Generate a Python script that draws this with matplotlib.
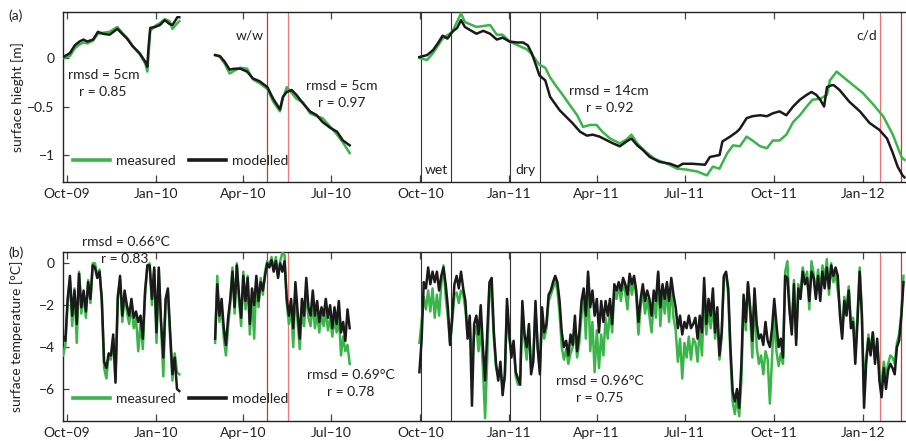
import numpy as np
import matplotlib
matplotlib.use("Agg")
import matplotlib.pyplot as plt
import matplotlib.dates as mdates
from matplotlib.lines import Line2D

plt.rcParams['font.family'] = ['Lato', 'DejaVu Sans']
plt.rcParams['axes.unicode_minus'] = True

BASE = np.datetime64('2009-10-01T00:00')

# ---------------- surface height (m); days since 1 Oct 2009 ----------------
h1_days = [-4, 3, 8, 13, 17, 21, 27, 32, 37, 44, 52, 57, 62, 68, 75, 81, 83, 84, 86, 91, 96, 101, 106, 109, 114, 116]
h1_mod = [0.01, 0.05, 0.13, 0.17, 0.19, 0.17, 0.19, 0.27, 0.25, 0.24, 0.30, 0.25, 0.20, 0.12, 0.05, -0.04, -0.09, 0.08,
          0.31, 0.32, 0.34, 0.39, 0.35, 0.34, 0.42, 0.42]
h1_meas = [0.00, 0.02, 0.10, 0.14, 0.16, 0.15, 0.18, 0.25, 0.26, 0.27, 0.32, 0.26, 0.21, 0.12, 0.04, -0.06, -0.14, 0.00,
           0.28, 0.33, 0.36, 0.40, 0.38, 0.30, 0.36, 0.38]

h2_days = [153, 158, 163, 168, 173, 179, 186, 192, 199, 207, 213, 220, 223, 227, 232, 237, 244, 251, 258, 264, 272, 279, 285, 292]
h2_mod = [0.03, 0.02, -0.04, -0.12, -0.11, -0.11, -0.14, -0.21, -0.24, -0.30, -0.42, -0.53, -0.40, -0.35, -0.33, -0.38,
          -0.47, -0.55, -0.59, -0.66, -0.72, -0.76, -0.85, -0.90]
h2_meas = [0.03, 0.01, -0.06, -0.16, -0.13, -0.10, -0.11, -0.22, -0.26, -0.32, -0.45, -0.55, -0.42, -0.30, -0.36, -0.42,
           -0.46, -0.57, -0.60, -0.62, -0.71, -0.79, -0.87, -0.98]

h3_mod_days = [364, 372, 378, 383, 388, 393, 398, 403, 407, 411, 416, 423, 430, 437, 444, 450, 457, 465, 471, 476,
               480, 485, 488, 494, 499, 504, 509, 516, 522, 530, 537, 543, 550, 558, 564, 571, 578, 583, 589, 595,
               602, 612, 623, 631, 636, 646, 659, 664, 674, 677, 685, 692, 695, 702, 708, 716, 723, 729, 736, 743,
               750, 757, 764, 769, 774, 778, 782, 785, 790, 792, 798, 808, 819, 829, 839, 847, 853, 858, 863, 865]
h3_mod = [0.01, 0.03, 0.08, 0.15, 0.23, 0.20, 0.27, 0.31, 0.39, 0.32, 0.29, 0.25, 0.28, 0.25, 0.19, 0.21, 0.17, 0.16, 0.16, 0.13,
          0.05, -0.09, -0.18, -0.23, -0.40, -0.47, -0.54, -0.61, -0.67, -0.76, -0.80, -0.79, -0.81, -0.85, -0.88, -0.91, -0.86, -0.83, -0.90, -0.95,
          -1.02, -1.07, -1.09, -1.12, -1.09, -1.09, -1.10, -1.02, -1.00, -0.86, -0.81, -0.76, -0.73, -0.62, -0.60, -0.59, -0.60, -0.57, -0.55, -0.59,
          -0.50, -0.43, -0.38, -0.35, -0.38, -0.43, -0.50, -0.30, -0.28, -0.28, -0.33, -0.45, -0.55, -0.67, -0.74, -0.83, -0.98, -1.12, -1.21, -1.23]
h3_meas_days = [364, 372, 378, 388, 398, 407, 411, 423, 437, 444, 450, 457, 468, 475, 480, 488, 494, 499, 506, 512,
                519, 527, 533, 540, 547, 553, 561, 571, 578, 583, 589, 597, 607, 620, 630, 640, 651, 661, 667, 674,
                682, 688, 695, 702, 708, 716, 723, 729, 736, 743, 750, 757, 764, 770, 778, 785, 788, 795, 801, 812,
                822, 832, 843, 853, 862, 865]
h3_meas = [0.00, -0.02, 0.05, 0.20, 0.27, 0.46, 0.37, 0.32, 0.34, 0.24, 0.24, 0.17, 0.12, 0.09, 0.04, -0.07, -0.10, -0.20, -0.30, -0.38,
           -0.48, -0.59, -0.71, -0.69, -0.69, -0.76, -0.83, -0.88, -0.84, -0.79, -0.88, -0.96, -1.04, -1.09, -1.14, -1.15, -1.17, -1.21, -1.12, -1.14,
           -0.98, -0.90, -0.91, -0.81, -0.85, -0.91, -0.93, -0.85, -0.85, -0.79, -0.66, -0.59, -0.50, -0.43, -0.42, -0.38, -0.23, -0.14, -0.19, -0.28,
           -0.36, -0.47, -0.60, -0.79, -1.02, -1.05]

# ---------------- surface temperature (degC); regularly sampled segments ----------------
t_seg_days = [(-4, 116), (153, 292), (364, 864)]
t1_mod = [-3.5, -3.7, -1.7, -0.6, -2.5, -1.3, -2.9, -0.5, -2.1, -1.3, -2.3, -0.9, -1.7, -0.1, -0.2, -0.7, -0.4, -1.7,
          -4.7, -5.0, -4.3, -4.4, -3.4, -5.7, -1.7, -0.6, -2.5, -1.3, -2.0, -2.5, -1.7, -2.6, -2.3, -2.8, -2.5, -3.6,
          -1.3, -0.1, -0.1, -1.7, -0.2, -3.3, -0.2, -2.8, -4.5, -1.7, -1.2, -3.3, -5.3, -4.5, -6.0, -6.1]
t1_meas = [-4.4, -3.9, -1.9, -0.8, -3.0, -1.2, -3.8, -0.4, -2.4, -1.5, -2.6, -0.8, -1.9, 0.0, 0.0, -0.6, -0.3, -1.9,
           -5.0, -5.5, -4.4, -4.6, -3.6, -5.5, -1.5, -0.8, -2.8, -1.5, -2.3, -2.9, -2.0, -3.1, -2.6, -4.2, -2.8, -4.1,
           -1.5, -0.1, 0.0, -2.0, -0.3, -3.8, -0.3, -3.0, -5.4, -1.9, -1.4, -3.6, -5.6, -4.3, -5.2, -5.3]
t2_mod = [-3.6, -1.0, -2.5, -1.7, -3.1, -3.9, -2.6, -1.7, -0.4, -2.1, -0.1, -1.5, -2.6, -0.6, -1.8, -0.7, -2.9, -1.2,
          -2.0, -0.6, -1.8, -0.9, -1.3, -0.6, 0.0, -0.2, 0.15, -0.4, 0.1, -0.7, 0.0, -0.4, 0.1, -1.7, -2.5, -1.7,
          -3.1, -0.9, -2.3, -3.6, -1.7, -2.5, -0.7, -2.1, -2.5, -1.3, -2.5, -1.8, -2.8, -2.1, -2.5, -1.7, -2.6, -2.0,
          -3.1, -2.1, -2.9, -1.8, -3.3, -2.8, -3.7, -2.2, -3.1]
t2_meas = [-3.8, -0.6, -2.8, -2.0, -3.6, -4.4, -3.0, -1.9, -0.2, -2.4, 0.0, -1.8, -3.0, -0.4, -2.2, -0.6, -3.4, -1.5,
           -3.6, -0.8, -2.1, -0.7, -1.5, -0.4, 0.1, -0.1, 0.3, -0.3, 0.3, -0.6, 0.1, 0.5, 0.4, -1.9, -2.9, -2.0,
           -4.0, -1.2, -2.8, -4.1, -2.2, -3.0, -1.2, -2.6, -3.0, -1.9, -3.1, -2.4, -3.3, -2.4, -3.0, -2.3, -3.2, -2.6,
           -3.5, -2.6, -3.3, -2.5, -4.4, -3.5, -4.2, -3.9, -4.8]
t3_mod = [-5.2, -3.7, -0.9, -1.2, -0.2, -1.0, -0.4, -0.9, -0.4, -1.3, -0.6, -0.2, -1.0, -2.1, -3.9, -2.5, -1.0, -0.6,
          -1.2, -0.4, -1.2, -1.8, -3.6, -2.5, -6.8, -2.9, -2.5, -3.4, -2.0, -4.0, -5.6, -3.3, -0.9, -0.7, -3.3, -4.8,
          -5.6, -4.7, -6.3, -5.3, -1.7, -3.3, -4.5, -3.7, -5.2, -5.5, -5.8, -1.8, -3.4, -4.0, -2.9, -5.3, -4.7, -1.8,
          -4.0, -5.3, -2.1, -3.3, -2.9, -1.5, -1.3, -0.9, -0.6, -0.9, -1.8, -3.3, -4.0, -3.7, -4.4, -3.4, -3.9, -2.5,
          -4.2,
          -3.3, -1.8, -1.2, -2.5, -0.4, -2.1, -1.3, -2.5, -1.7, -3.3, -1.8, -2.8, -1.8, -2.5, -1.7, -2.9, -1.0, -1.3,
          -0.9, -1.3, -0.7, -1.0, -1.5, -0.5, -1.0, -0.6, -1.3, -2.8, -1.7, -1.0, -1.8, -1.3, -1.7, -2.5, -1.3, -1.8,
          -0.4, -2.1, -1.0, -1.7, -0.9, -1.8, -0.7, -1.5, -2.1, -3.1, -2.5, -3.4, -2.8, -3.1, -2.5, -3.1, -2.9, -2.6,
          -3.6, -2.5, -3.3, -0.7, -2.9, -1.7, -2.5, -1.2, -3.3, -2.1, -4.4, -3.3, -0.6, -0.4, -1.2, -4.0, -6.1, -6.6,
          -6.0, -6.9, -4.8,
          -1.5, -2.8, -0.9, -2.1, -3.7, -1.2, -2.9, -3.6, -3.4, -3.9, -2.8, -3.7, -4.0, -3.1, -1.7, -2.9, -4.0, -3.6,
          -4.5, -0.6, -0.7, -2.3, -3.4, -1.0, -3.9, -1.2, -1.7, -0.4, -1.0, -0.7, -1.8, -0.4, -0.7, -1.7, -0.6, -1.8,
          -0.4, -1.2, -0.2, -1.2, -0.1, -0.6, -0.2, -0.6, -2.5, -3.6, -1.8, -2.5, -1.3, -3.1, -2.8, -4.8, -2.8, -0.4,
          -2.5, -6.9, -4.7, -3.6, -4.4, -3.3, -4.8, -3.6, -5.6, -6.4, -5.0, -6.0, -5.1, -4.8, -5.0, -5.3, -4.0, -3.7,
          -2.6, -0.9]
t3_meas = [-3.8, -2.8, -1.6, -2.2, -1.3, -2.3, -1.2, -2.6, -1.5, -2.5, -1.0, -0.1, -1.6, -2.6, -3.8, -2.8, -1.5, -1.4,
           -1.9, -1.3, -1.5, -2.2, -3.4, -2.8, -4.6, -3.4, -3.0, -4.2, -3.0, -5.0, -7.4, -4.5, -1.1, -1.5, -3.6, -5.0,
           -5.4, -5.1, -6.0, -5.5, -2.0, -3.6, -4.2, -3.9, -5.4, -5.8, -5.5, -2.3, -3.7, -4.6, -3.1, -5.0, -4.5, -2.2,
           -4.1, -5.1, -2.6, -3.6, -3.1, -1.8, -1.5, -1.2, -0.8, -1.3, -2.4, -4.0, -4.6, -4.1, -4.8, -4.3, -4.0, -3.2,
           -4.5,
           -3.8, -2.5, -1.4, -3.6, -0.6, -4.2, -2.8, -5.2, -3.2, -5.0, -3.4, -4.4, -2.6, -3.6, -2.2, -3.3, -1.3, -1.7,
           -1.0, -1.8, -0.9, -1.4, -2.2, -0.7, -1.5, -0.8, -1.6, -3.4, -2.1, -1.3, -2.4, -1.7, -2.5, -3.3, -1.8, -2.6,
           -0.5, -3.0, -1.4, -2.4, -1.2, -2.8, -1.0, -2.6, -3.2, -4.7, -3.6, -5.5, -3.8, -4.5, -3.5, -4.6, -3.6, -3.8,
           -4.7, -3.0, -4.4, -1.5, -3.4, -2.2, -3.1, -1.9, -3.6, -2.7, -4.6, -3.5, -0.7, -0.5, -1.5, -4.5, -6.6, -7.2,
           -6.4, -7.3, -5.6,
           -1.7, -3.2, -1.0, -2.4, -4.5, -1.6, -4.0, -4.8, -4.4, -5.3, -4.2, -4.6, -6.7, -4.5, -2.5, -4.2, -4.9, -4.3,
           -4.8, -0.4, 0.1, -2.0, -3.2, -0.8, -3.6, -1.0, -1.5, -0.2, -0.8, -0.4, -2.2, 0.1, -0.5, -1.5, -0.3, -1.4,
           -0.1, -0.8, 0.2, -1.5, 0.0, -0.9, -0.5, -1.3, -2.2, -3.4, -1.6, -2.2, -1.1, -2.8, -2.6, -4.3, -2.4, -0.2,
           -2.3, -6.2, -4.5, -3.4, -4.2, -3.3, -4.6, -3.8, -5.2, -5.8, -4.7, -5.4, -4.8, -4.4, -4.5, -4.8, -3.8, -3.4,
           -2.4, -0.6]

series_labels = ['measured', 'modelled']

# event markers (days since 1 Oct 2009)
red_days = [207, 228, 840, 861]
red_cols = ['#e4282e', '#ee7a7a', '#f07070', '#e4282e']
black_days = [366, 397, 458, 489]

GREEN = '#3bb54a'
BLACK = '#1a1a1a'
TXT = '#231f20'


def to_dates(days):
    d = np.asarray(days, dtype=float)
    return BASE + (d * 86400).astype('timedelta64[s]')


def reg_days(seg, n):
    return np.linspace(seg[0], seg[1], n)


fig = plt.figure(figsize=(9.06, 4.41), dpi=100)
W, H = 906.0, 441.0
ax1 = fig.add_axes([63 / W, 1 - 182.3 / H, 843 / W, 170 / H])
ax2 = fig.add_axes([63 / W, 1 - 421 / H, 843 / W, 169.5 / H])

lw = 1.8
# height
for d, v in [(h1_days, h1_meas), (h2_days, h2_meas), (h3_meas_days, h3_meas)]:
    ax1.plot(to_dates(d), v, color=GREEN, lw=lw, zorder=3)
for d, v in [(h1_days, h1_mod), (h2_days, h2_mod), (h3_mod_days, h3_mod)]:
    ax1.plot(to_dates(d), v, color=BLACK, lw=lw, zorder=4)

# temperature
for seg, v in zip(t_seg_days, [t1_meas, t2_meas, t3_meas]):
    ax2.plot(to_dates(reg_days(seg, len(v))), v, color=GREEN, lw=lw, zorder=3)
for seg, v in zip(t_seg_days, [t1_mod, t2_mod, t3_mod]):
    ax2.plot(to_dates(reg_days(seg, len(v))), v, color=BLACK, lw=lw, zorder=4)

for ax in (ax1, ax2):
    for d, c in zip(red_days, red_cols):
        ax.axvline(to_dates([d])[0], color=c, lw=0.9, zorder=2)
    for d in black_days:
        ax.axvline(to_dates([d])[0], color='#333333', lw=0.8, zorder=2)
    ax.set_xlim(to_dates([-4.1])[0], to_dates([866.6])[0])
    ax.xaxis.set_major_locator(mdates.MonthLocator(bymonth=[1, 4, 7, 10]))
    ax.xaxis.set_major_formatter(mdates.DateFormatter('%b\u2013%y'))
    ax.tick_params(axis='x', direction='in', top=True, length=5, width=0.9, pad=4,
                   labelsize=10, colors=TXT, color='#444444')
    ax.tick_params(axis='y', direction='in', length=4, width=0.9, pad=6,
                   labelsize=10, colors=TXT, color='#444444')
    ax.spines['right'].set_visible(False)
    for s in ('left', 'top', 'bottom'):
        ax.spines[s].set_linewidth(1.0)
        ax.spines[s].set_color('#222222')
    handles = [Line2D([], [], color=GREEN, lw=2.6), Line2D([], [], color=BLACK, lw=2.6)]
    leg = ax.legend(handles, series_labels, loc='lower left', bbox_to_anchor=(0.0, 0.035),
                    ncol=2, frameon=False, fontsize=10, handlelength=2.7, handletextpad=0.45,
                    columnspacing=0.9, borderaxespad=0.3)
    for t in leg.get_texts():
        t.set_color(TXT)

ax1.set_ylim(-1.281, 0.471)
ax1.set_yticks([0, -0.5, -1])
ax1.set_yticklabels(['0', '\u22120.5', '\u22121'])
ax2.set_ylim(-7.53, 0.563)
ax2.set_yticks([0, -2, -4, -6])
ax2.set_yticklabels(['0', '\u22122', '\u22124', '\u22126'])

ax1.set_ylabel('surface hieght [m]', fontsize=10, color=TXT)
ax2.set_ylabel('surface temperature [\u00b0C]', fontsize=10, color=TXT)
ax1.yaxis.set_label_coords(-0.046, 0.5)
ax2.yaxis.set_label_coords(-0.047, 0.5)

fig.text(8 / W, 1 - 16 / H, '(a)', fontsize=10, color=TXT, va='center', ha='left')
fig.text(8 / W, 1 - 253 / H, '(b)', fontsize=10, color=TXT, va='center', ha='left')

kw = dict(fontsize=10, color=TXT, ha='center', va='center', zorder=6)
tA = ax1.transAxes
ax1.text(0.0485, 0.629, 'rmsd = 5cm', transform=tA, **kw)
ax1.text(0.0470, 0.529, 'r = 0.85', transform=tA, **kw)
ax1.text(0.221, 0.865, 'w/w', transform=tA, **kw)
ax1.text(0.331, 0.565, 'rmsd = 5cm', transform=tA, **kw)
ax1.text(0.330, 0.465, 'r = 0.97', transform=tA, **kw)
ax1.text(0.443, 0.071, 'wet', transform=tA, **kw)
ax1.text(0.549, 0.071, 'dry', transform=tA, **kw)
ax1.text(0.648, 0.537, 'rmsd = 14cm', transform=tA, **kw)
ax1.text(0.649, 0.435, 'r = 0.92', transform=tA, **kw)
ax1.text(0.954, 0.865, 'c/d', transform=tA, **kw)

tB = ax2.transAxes
ax2.text(0.0742, 1.055, 'rmsd = 0.66\u00b0C', transform=tB, clip_on=False, **kw)
ax2.text(0.0736, 0.957, 'r = 0.83', transform=tB, **kw)
ax2.text(0.341, 0.271, 'rmsd = 0.69\u00b0C', transform=tB, **kw)
ax2.text(0.341, 0.169, 'r = 0.78', transform=tB, **kw)
ax2.text(0.637, 0.235, 'rmsd = 0.96\u00b0C', transform=tB, **kw)
ax2.text(0.637, 0.134, 'r = 0.75', transform=tB, **kw)

fig.savefig('out.png', dpi=100)
